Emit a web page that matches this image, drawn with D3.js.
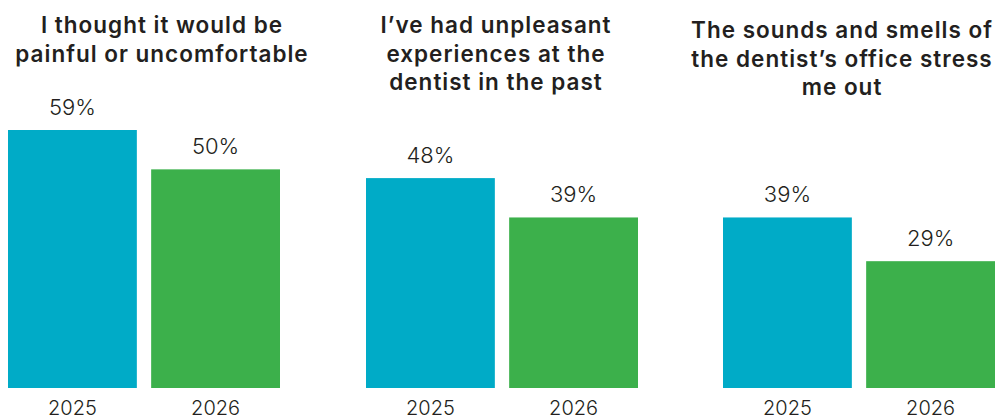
<!DOCTYPE html>
<html>
<head>
<meta charset="utf-8">
<script src="https://cdn.jsdelivr.net/npm/d3@7"></script>
<style>
  html, body { margin: 0; padding: 0; background: #fff; }
  #chart { width: 998px; height: 420px; }
  text { font-family: Inter, "Open Sans", sans-serif; fill: #231f20; }
</style>
</head>
<body>
<div id="chart"></div>
<script>
// Three small-multiple panels: reasons for dental anxiety, 2025 vs 2026.
var years = ['2025', '2026'];
var titles = [
    ['I thought it would be', 'painful or uncomfortable'],
    ['I\u2019ve had unpleasant', 'experiences at the', 'dentist in the past'],
    ['The sounds and smells of', 'the dentist\u2019s office stress', 'me out']
];
var values2025 = [59, 48, 39];
var values2026 = [50, 39, 29];
var colors = ['#00abc7', '#3cb04b'];

(function () {
    var W = 998, H = 420;
    var baseline = 388;
    var panelX = [8, 366, 723];
    var panelW = 272;
    var titleX = [162, 496, 842];
    var titleTop = [33, 33, 38];
    var lineH = 28.5;

    var svg = d3.select('#chart').append('svg')
        .attr('width', W).attr('height', H);

    // 59% tops out at y≈130 -> about 4.36 px per point
    var y = d3.scaleLinear().domain([0, 59]).range([baseline, 130]);

    titles.forEach(function (lines, p) {
        var g = svg.append('g').attr('transform', 'translate(' + panelX[p] + ',0)');
        var x = d3.scaleBand().domain(years).range([0, panelW]).paddingInner(0.1);
        var vals = [values2025[p], values2026[p]];

        g.selectAll('rect').data(vals).enter().append('rect')
            .attr('x', function (d, i) { return x(years[i]); })
            .attr('y', function (d) { return y(d); })
            .attr('width', x.bandwidth())
            .attr('height', function (d) { return baseline - y(d); })
            .attr('fill', function (d, i) { return colors[i]; });

        g.selectAll('text.val').data(vals).enter().append('text')
            .attr('class', 'val')
            .attr('x', function (d, i) { return x(years[i]) + x.bandwidth() / 2; })
            .attr('y', function (d) { return y(d) - 15; })
            .attr('text-anchor', 'middle')
            .style('font-size', '22px')
            .style('font-weight', 300)
            .text(function (d) { return d + '%'; });

        g.selectAll('text.yr').data(years).enter().append('text')
            .attr('class', 'yr')
            .attr('x', function (d) { return x(d) + x.bandwidth() / 2; })
            .attr('y', 415)
            .attr('text-anchor', 'middle')
            .style('font-size', '20px')
            .style('font-weight', 300)
            .text(function (d) { return d; });

        var t = svg.append('text')
            .attr('text-anchor', 'middle')
            .style('font-size', '22.5px')
            .style('font-weight', 600)
            .style('letter-spacing', '1px');
        lines.forEach(function (ln, i) {
            t.append('tspan')
                .attr('x', titleX[p])
                .attr('y', titleTop[p] + i * lineH)
                .text(ln);
        });
    });
})();
</script>
</body>
</html>
